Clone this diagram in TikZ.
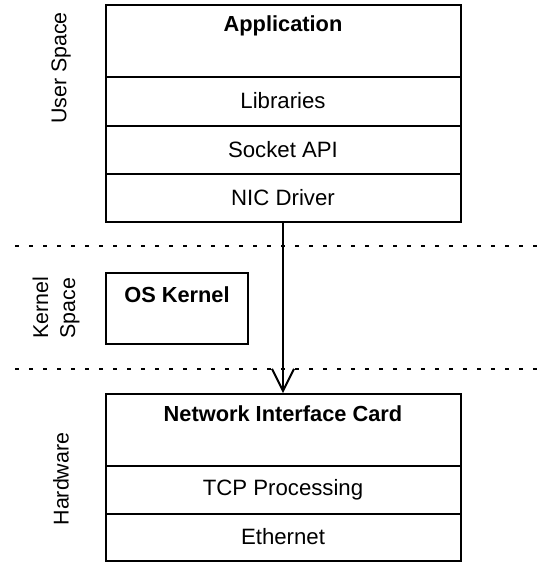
\documentclass[tikz,border=0pt]{standalone}
\usepackage{fontspec}
\setmainfont{Liberation Sans}
\usetikzlibrary{arrows.meta}
\begin{document}
\begin{tikzpicture}[x=0.5pt, y=-0.5pt, line width=1pt,
    font=\fontsize{11.1}{13.5}\selectfont,
    layer/.style={draw, rectangle, minimum width=177.5pt, inner sep=0pt},
    title/.style={font=\fontsize{10.9}{13.5}\selectfont\bfseries},
    spacelabel/.style={rotate=90, align=center, font=\fontsize{10.7}{13.5}\selectfont},
    boundary/.style={dash pattern=on 1.75pt off 5.25pt}]
    \useasboundingbox (0,0) rectangle (543,563);
    % Drawing the user space stack
    \node [layer, minimum height=36pt] (app) at (283,41) {};
    \node [title] (apptitle) at (283,26) {Application};
    \node [layer, minimum height=24.5pt] (libs) at (283,101.5) {\raisebox{1pt}{Libraries}};
    \node [layer, minimum height=24pt] (sock) at (283,150) {\raisebox{1pt}{Socket API}};
    \node [layer, minimum height=24pt] (drv) at (283,198) {\raisebox{1pt}{NIC Driver}};
    % Drawing the kernel box
    \node [draw, rectangle, minimum width=71.25pt, minimum height=35.75pt] (kern) at (176.75,308.25) {};
    \node [title] (kerntitle) at (177,295) {OS Kernel};
    % Drawing the hardware stack
    \node [layer, minimum height=36pt] (nic) at (283,430) {};
    \node [title] (nictitle) at (283,414) {Network Interface Card};
    \node [layer, minimum height=24pt] (tcp) at (283,490) {\raisebox{1pt}{TCP Processing}};
    \node [layer, minimum height=23.5pt] (eth) at (283,537.5) {\raisebox{1pt}{Ethernet}};
    % Drawing the space boundaries
    \draw [boundary] (15,246) -- (543,246);
    \draw [boundary] (15,369) -- (543,369);
    % Drawing the side labels
    \node [spacelabel] (user) at (61,68) {User Space};
    \node [spacelabel] (kernel) at (56,308) {Kernel\\Space};
    \node [spacelabel] (hw) at (61,479) {Hardware};
    % Drawing the bypass arrow
    \draw [-{Straight Barb[length=11pt, width=11pt]}] (drv.south) -- (nic.north);
\end{tikzpicture}
\end{document}
